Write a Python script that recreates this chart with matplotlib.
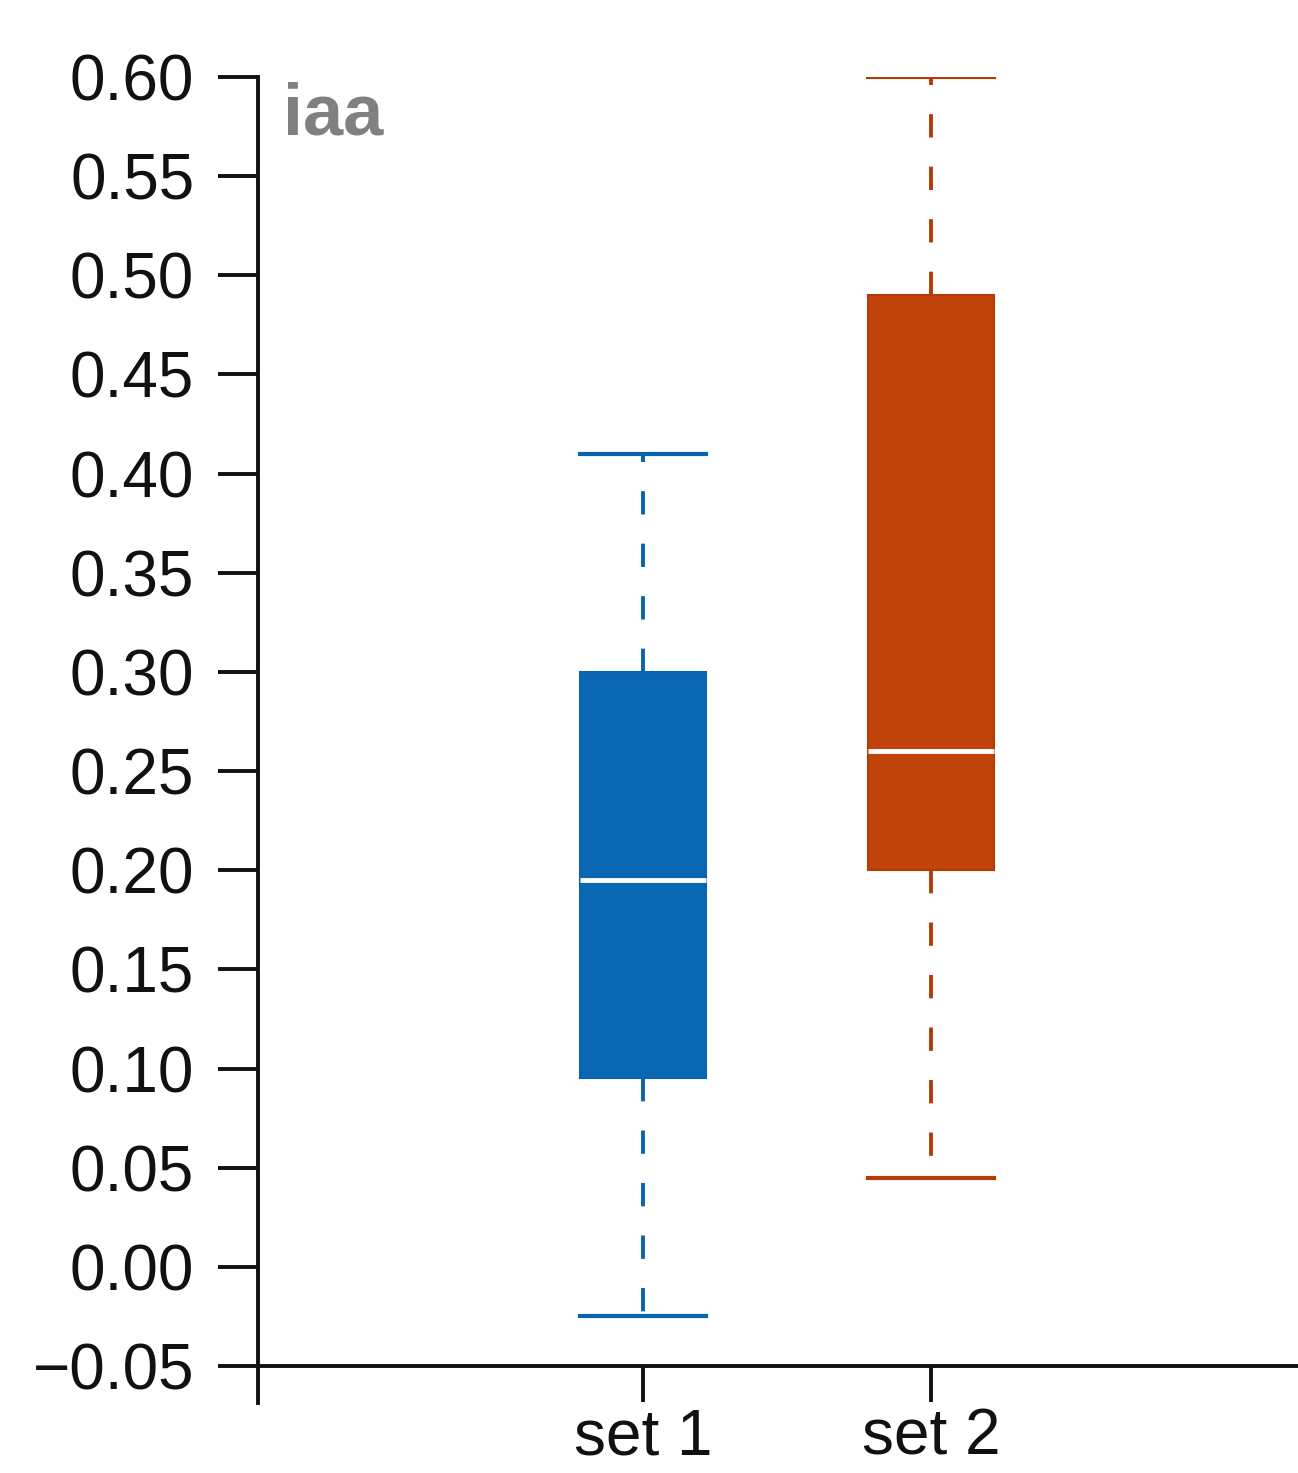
import matplotlib
matplotlib.use('Agg')
import matplotlib.pyplot as plt
from matplotlib.ticker import FuncFormatter

# Box statistics
labels = ['set 1', 'set 2']
whisker_low = [-0.025, 0.045]
q1 = [0.095, 0.200]
median = [0.195, 0.260]
q3 = [0.300, 0.490]
whisker_high = [0.410, 0.600]
face_colors = ['#0a67b4', '#c0430c']
edge_colors = ['#0a63ad', '#b23c08']
y_ticks = [-0.05, 0.00, 0.05, 0.10, 0.15, 0.20, 0.25, 0.30, 0.35, 0.40, 0.45, 0.50, 0.55, 0.60]

plt.rcParams['font.family'] = ['Liberation Sans', 'DejaVu Sans']

fig = plt.figure(figsize=(12.98, 14.73), dpi=100)
ax = fig.add_axes([0.1988, 0.0475, 0.8012, 0.9002])

positions = [1, 2]
for i, pos in enumerate(positions):
    stats = [{
        'med': median[i], 'q1': q1[i], 'q3': q3[i],
        'whislo': whisker_low[i], 'whishi': whisker_high[i],
        'fliers': [], 'label': labels[i],
    }]
    ax.bxp(stats, positions=[pos], widths=0.44, capwidths=0.44,
           showfliers=False, patch_artist=True,
           boxprops=dict(facecolor=face_colors[i], edgecolor=edge_colors[i], linewidth=1.5),
           medianprops=dict(color='white', linewidth=3.5),
           whiskerprops=dict(color=edge_colors[i], linewidth=2.8, linestyle=(0, (6, 7.5))),
           capprops=dict(color=edge_colors[i], linewidth=3),
           manage_ticks=False)

ax.set_xlim(-0.337, 3.274)
ax.set_ylim(-0.0687, 0.60)
ax.set_xticks(positions)
ax.set_xticklabels(labels)
ax.set_yticks(y_ticks)
ax.yaxis.set_major_formatter(FuncFormatter(lambda v, p: f"{v:.2f}".replace('-', '\u2212')))

# Axis styling: crossing axes, outward ticks
ax.spines['top'].set_visible(False)
ax.spines['right'].set_visible(False)
ax.spines['bottom'].set_position(('data', -0.05))
for s in ['left', 'bottom']:
    ax.spines[s].set_linewidth(2.8)
    ax.spines[s].set_color('#111111')
ax.tick_params(axis='y', direction='out', length=29, width=2.8, pad=17,
               labelsize=46, color='#111111', labelcolor='#111111')
ax.tick_params(axis='x', direction='out', length=26, width=2.8, pad=4,
               labelsize=46, color='#111111', labelcolor='#111111')

ax.text(0.024, 0.997, 'iaa', transform=ax.transAxes, ha='left', va='top',
        fontsize=52, fontweight='bold', color='#808080')

fig.savefig('out.png', dpi=100, facecolor='white')
